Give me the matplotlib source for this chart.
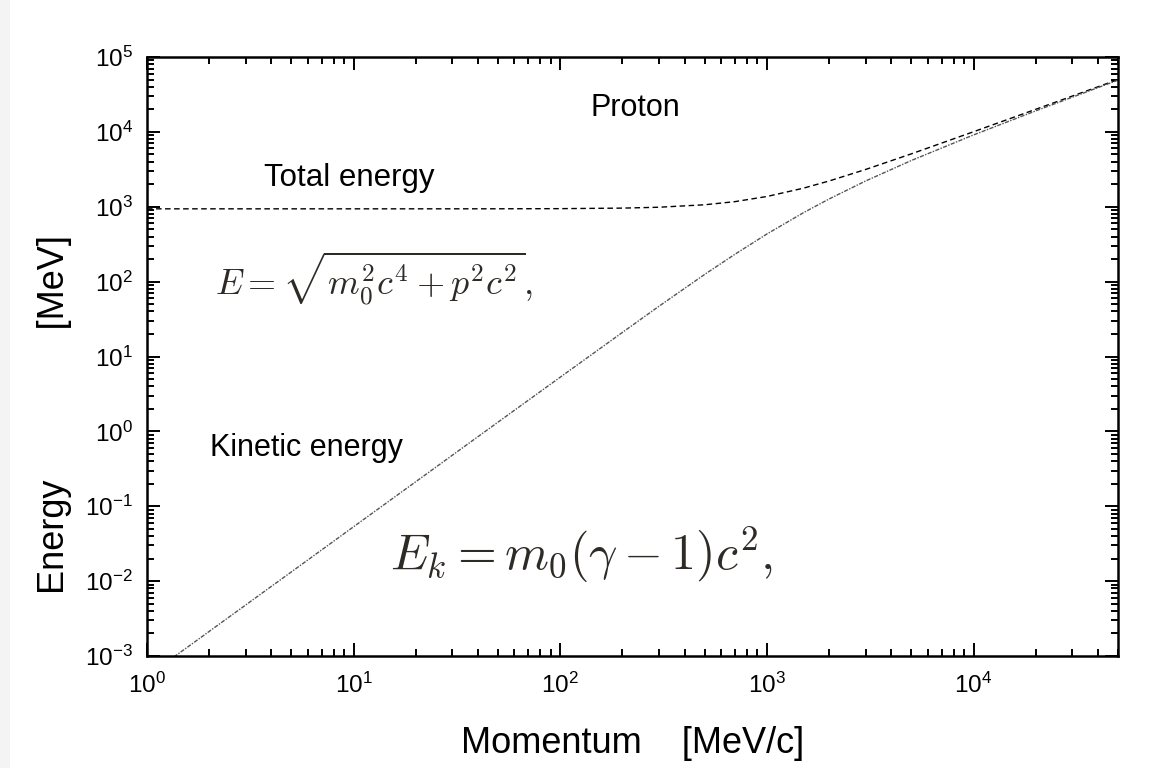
import matplotlib
matplotlib.use("Agg")
import matplotlib.pyplot as plt
from matplotlib.patches import Rectangle
from matplotlib.ticker import FuncFormatter
import numpy as np

plt.rcParams['font.family'] = ['Liberation Sans', 'DejaVu Sans']

# Data (MeV/c, MeV)
momentum = [1, 1.37, 2, 5, 10, 20, 50, 100, 200, 300, 500, 700, 1000, 1500,
            2000, 3000, 5000, 10000, 20000, 50000]
total_energy = [938, 938, 938, 938, 938, 938.2, 939.3, 943.3, 959, 985, 1063, 1170,
                1371, 1769, 2209, 3143, 5087, 10044, 20022, 50009]
kinetic_energy = [5.3e-4, 1.0e-3, 2.13e-3, 1.33e-2, 5.33e-2, 0.213, 1.33, 5.3, 21,
                  46.8, 125, 232, 433, 831, 1271, 2205, 4149, 9106, 19084, 49071]

x_lim = (1, 5e4)
y_lim = (1e-3, 1e5)

fig = plt.figure(figsize=(11.5, 7.68), dpi=100)
fig.patches.append(Rectangle((0, 0), 10 / 1150, 1, transform=fig.transFigure,
                             facecolor='#f4f4f4', edgecolor='none', zorder=-1))
ax = fig.add_axes([147 / 1150, 1 - 656 / 768, (1118 - 147) / 1150, (656 - 57) / 768])

ax.plot(momentum, total_energy, color='black', lw=1.0, dashes=(4, 2.5))
ax.plot(momentum, kinetic_energy, color='#555555', lw=1.0, dashes=(3, 1, 1, 1))

ax.set_xscale('log')
ax.set_yscale('log')
ax.set_xlim(*x_lim)
ax.set_ylim(*y_lim)

fmt = FuncFormatter(lambda v, pos: r'$\mathregular{10^{%d}}$' % int(round(np.log10(v))))
ax.xaxis.set_major_formatter(fmt)
ax.yaxis.set_major_formatter(fmt)

for s in ax.spines.values():
    s.set_linewidth(1.8)
ax.tick_params(which='both', direction='in', top=True, right=True, width=1.4,
               labelsize=17.5)
ax.tick_params(which='major', length=9.5)
ax.tick_params(which='minor', length=4.7)
ax.tick_params(axis='x', which='major', pad=12)
ax.tick_params(axis='y', which='major', pad=10)

ax.set_xlabel('Momentum    [MeV/c]', fontsize=26, labelpad=20)
fig.text(55 / 1150, 1 - 414 / 768, 'Energy' + ' ' * 15 + '[MeV]', rotation=90,
         fontsize=26, ha='center', va='center')

ax.text(0.503, 0.915, 'Proton', transform=ax.transAxes, fontsize=22,
        ha='center', va='center')
ax.text(0.121, 0.798, 'Total energy', transform=ax.transAxes, fontsize=22.5,
        ha='left', va='center')
ax.text(0.065, 0.347, 'Kinetic energy', transform=ax.transAxes, fontsize=22,
        ha='left', va='center')

ax.text(0.070, 0.630, r'$E = \sqrt{m_0^2 c^4 + p^2 c^2},$', transform=ax.transAxes,
        fontsize=26, ha='left', va='center', color='#2e2a26', math_fontfamily='cm')
ax.text(0.250, 0.169, r'$E_k = m_0(\gamma - 1)c^2,$', transform=ax.transAxes,
        fontsize=36, ha='left', va='center', color='#2e2a26', math_fontfamily='cm')

fig.savefig('out.png', dpi=100, facecolor='white')
